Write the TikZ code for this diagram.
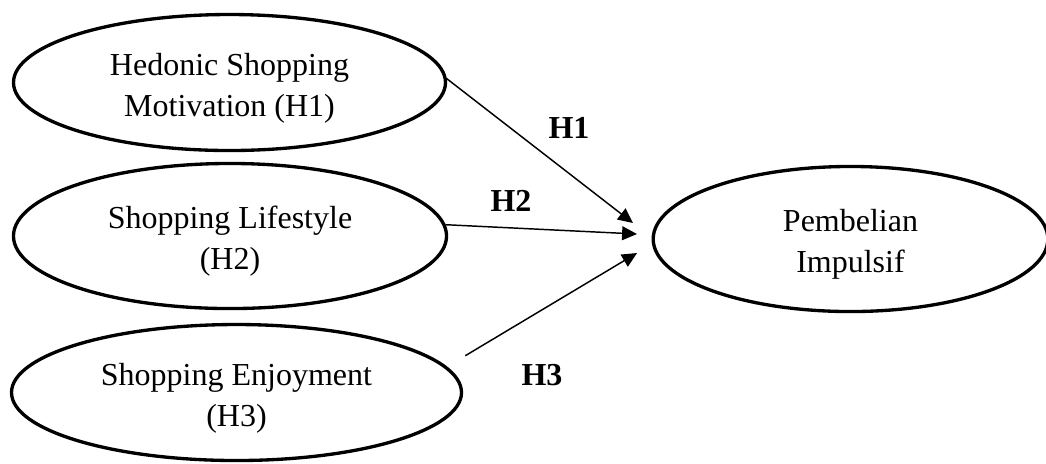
\documentclass[tikz,border=0pt]{standalone}
\usepackage{fontspec}
\setmainfont{Liberation Serif}
\usetikzlibrary{shapes.geometric,arrows.meta}
\newcommand\toppad{\rule{0pt}{12.5pt}}
\begin{document}
\begin{tikzpicture}[x=0.375pt,y=-0.375pt,
  var/.style={draw,ellipse,line width=1.25pt,inner sep=0pt,align=center,
    font=\fontsize{12pt}{15.5pt}\selectfont},
  link/.style={line width=0.55pt,-{Triangle[length=5.6pt,width=5.2pt]}},
  hyp/.style={font=\fontsize{12pt}{14pt}\selectfont\bfseries,inner sep=0pt}]
\useasboundingbox (0,0) rectangle (1046,463);
\node[var,minimum width=162pt,minimum height=51pt] (e1) at (229.5,82.5)
  {\toppad Hedonic Shopping\\Motivation (H1)};
\node[var,minimum width=162.4pt,minimum height=54.4pt] (e2) at (230,236)
  {\toppad Shopping Lifestyle\\(H2)};
\node[var,minimum width=168.75pt,minimum height=51pt] (e3) at (236.5,392.5)
  {\toppad Shopping Enjoyment\\(H3)};
\node[var,minimum width=148pt,minimum height=54.4pt] (e4) at (850.5,239)
  {\toppad Pembelian\\Impulsif};
\coordinate (t1) at (633,223);
\coordinate (t2) at (637,234);
\coordinate (t3) at (637,253);
\draw[link] (e1.1.5) -- (t1);
\draw[link] (e2.3) -- (t2);
\draw[link,shorten <=8pt] (e3.7.3) -- (t3);
\node[hyp] (h1) at (569,128) {H1};
\node[hyp] (h2) at (511,201) {H2};
\node[hyp] (h3) at (542,375) {H3};
\end{tikzpicture}
\end{document}
